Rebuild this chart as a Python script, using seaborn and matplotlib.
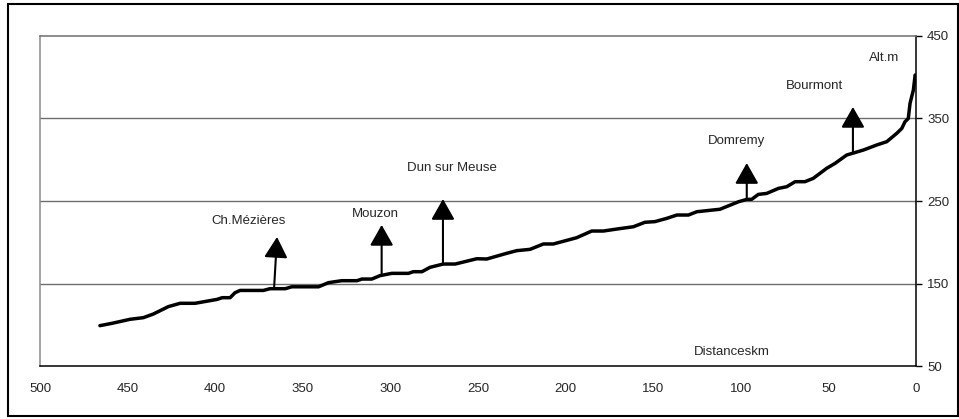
import matplotlib
matplotlib.use("Agg")
import matplotlib.pyplot as plt
import seaborn as sns
import pandas as pd
from matplotlib.patches import Rectangle

# ---- data ----
distance_km = [465.8, 459, 448.6, 441, 435.3, 426.7, 420, 411.5, 399, 396, 391.5, 388.7,
               385.8, 372.5, 368.7, 360, 356.3, 341, 335.4, 327.8, 319, 316.3, 310.6, 306,
               299.2, 289.7, 286.9, 282, 277.4, 269.8, 263, 250.7, 245, 233.6, 227.9, 220.3,
               212.7, 207, 193.7, 185.1, 178.4, 170.8, 161.3, 154.7, 149, 142.2, 136.5,
               129.9, 125.1, 111.9, 101.4, 96.6, 93.8, 90, 85.2, 78.5, 73.8, 69, 63.4, 58.6,
               51, 46.2, 39.6, 30, 22.4, 16.7, 11, 8.1, 6.3, 4.4, 3.4, 1.5, 0.5]
altitude_m = [98.9, 101.7, 106.6, 108.6, 113, 122, 126, 126, 130.7, 132.8, 132.8, 138.8,
              141.6, 141.6, 143.7, 143.7, 146, 146, 151, 153.4, 153.4, 155.4, 155.4, 159.5,
              162.3, 162.3, 164.3, 164.3, 169.6, 173.6, 173.6, 180, 179.7, 186.6, 189.8, 191.4,
              197.9, 197.9, 205.5, 213.6, 213.6, 216, 218.8, 224.2, 225, 229, 233,
              233, 237, 240, 249, 252, 252, 258, 259.2, 265.3, 267.3, 273.4, 273.4, 277.5,
              289.6, 295.6, 305.7, 311.8, 317.9, 321.9, 332, 338, 346, 350, 368.4, 384.5, 402.7]

towns = ["Ch.Mézières", "Mouzon", "Dun sur Meuse", "Domremy", "Bourmont"]
town_km = [366.4, 305, 270, 96.6, 36]
town_alt = [144, 160, 173.6, 253.6, 308]

x_ticks = [500, 450, 400, 350, 300, 250, 200, 150, 100, 50, 0]
y_ticks = [50, 150, 250, 350, 450]

# ---- layout ----
W, H = 959, 419
fig = plt.figure(figsize=(W / 100, H / 100), dpi=100)
sns.set_style("white")
plt.rcParams["font.family"] = ["Liberation Sans", "DejaVu Sans"]
fs = 9.5

ax = fig.add_axes([40 / W, (H - 366) / H, (916 - 40) / W, (366 - 36) / H])

df = pd.DataFrame({"km": distance_km, "alt": altitude_m})
sns.lineplot(data=df, x="km", y="alt", ax=ax, color="black", lw=2.5,
             sort=False, estimator=None, solid_joinstyle="round", solid_capstyle="round")

ax.set_xlim(500, 0)
ax.set_ylim(50, 450)
ax.set_xticks(x_ticks)
ax.set_yticks(y_ticks)
ax.yaxis.tick_right()
ax.set_xlabel("")
ax.set_ylabel("")
ax.tick_params(axis="both", direction="out", length=4, width=1, color="black",
               labelsize=fs, pad=8)
ax.tick_params(axis="y", pad=4)
for yv in [150, 250, 350]:
    ax.axhline(yv, color="#6e6e6e", lw=1, zorder=0)
ax.spines["left"].set_color("#8a8a8a")
ax.spines["top"].set_color("#6e6e6e")
ax.spines["right"].set_color("black")
ax.spines["bottom"].set_color("black")
for s in ax.spines.values():
    s.set_linewidth(1.1)

# town arrows
tips = [206.4, 221, 252.4, 296, 364]
tip_dx = [-1.7, 0, 0, 0, 0]
label_pos = [(380.7, 225.8), (308.8, 234), (264.8, 290), (102.7, 322.7), (58.2, 389)]
for name, km, alt, tip, dx, (lx, ly) in zip(towns, town_km, town_alt, tips, tip_dx, label_pos):
    ax.annotate("", xy=(km + dx, tip), xytext=(km, alt),
                arrowprops=dict(arrowstyle="-|>,head_length=1.27,head_width=0.72",
                                color="black", lw=1.5, shrinkA=0, shrinkB=0,
                                mutation_scale=10))
    ax.text(lx, ly, name, ha="center", va="center", fontsize=fs)

ax.text(18.3, 423, "Alt.m", ha="center", va="center", fontsize=fs)
ax.text(105, 67, "Distanceskm", ha="center", va="center", fontsize=fs)

# outer border
fig.patches.append(Rectangle((8 / W, 3 / H), (W - 9) / W, (H - 7) / H,
                             transform=fig.transFigure, fill=False,
                             edgecolor="black", lw=1.5))

fig.savefig("out.png", dpi=100)
